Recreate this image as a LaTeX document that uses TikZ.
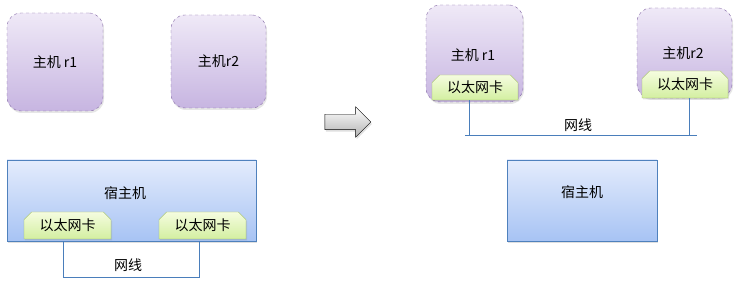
\documentclass[tikz,border=0pt]{standalone}
\usepackage{fontspec}
\setmainfont{Noto Sans CJK SC}
\usetikzlibrary{shapes.misc,shapes.arrows,shadows}
\definecolor{vmtop}{HTML}{EFE9F7}
\definecolor{vmbot}{HTML}{C7B5E1}
\definecolor{vmline}{HTML}{8064A2}
\definecolor{hosttop}{HTML}{E4ECFC}
\definecolor{hostbot}{HTML}{A7C3F4}
\definecolor{hostline}{HTML}{4F81BD}
\definecolor{nictop}{HTML}{F5FCDF}
\definecolor{nicbot}{HTML}{D3EFA1}
\definecolor{nicline}{HTML}{9BBB59}
\definecolor{wireline}{HTML}{4A7EBB}
\tikzset{
  vmbox/.style={draw=vmline,dashed,rounded corners=14pt,top color=vmtop,bottom color=vmbot,
    drop shadow={opacity=0.2,shadow xshift=1pt,shadow yshift=-2pt}},
  hostbox/.style={draw=hostline,top color=hosttop,bottom color=hostbot,
    drop shadow={opacity=0.25,shadow xshift=1pt,shadow yshift=-2pt}},
  nicbox/.style={draw=nicline,top color=nictop,bottom color=nicbot,
    chamfered rectangle,chamfered rectangle corners={north east,north west},
    chamfered rectangle xsep=2.5pt,inner sep=0pt,
    drop shadow={opacity=0.2,shadow xshift=1pt,shadow yshift=-1.5pt}},
  wire/.style={draw=wireline,line width=0.8pt},
  fwdarrow/.style={single arrow,draw=black,top color=white,bottom color=black!30,
    single arrow head extend=7.5pt,single arrow head indent=0pt,
    inner xsep=0pt,inner ysep=7.5pt,minimum height=46pt,
    drop shadow={opacity=0.25,shadow xshift=1pt,shadow yshift=-2pt}},
  lbl/.style={inner sep=0pt}
}
\begin{document}
\fontsize{14pt}{16pt}\selectfont
\begin{tikzpicture}[x=1pt,y=-1pt]
\useasboundingbox (0,0) rectangle (737,283);
\node[vmbox,minimum width=96pt,minimum height=98pt] (vma) at (55,62) {主机 r1};
\node[vmbox,minimum width=95pt,minimum height=93pt] (vmb) at (218.5,61.5) {主机r2};
\node[hostbox,minimum width=249pt,minimum height=81pt] (hosta) at (131.5,200.5) {};
\node[lbl] (hostatext) at (125,193) {宿主机};
\node[nicbox,minimum width=87pt,minimum height=27pt] (nica) at (67.5,225.5) {以太网卡};
\node[nicbox,minimum width=87pt,minimum height=27pt] (nicb) at (202.5,225.5) {以太网卡};
\coordinate (wirea) at (63,277);
\draw[wire] (hosta.south -| wirea) -- (wirea) -| ([xshift=-3.5pt]nicb.south |- hosta.south);
\node[lbl] (wireatext) at (128,265) {网线};
\node[fwdarrow] (arr) at (344,122) {};
\node[vmbox,minimum width=97pt,minimum height=97pt] (vmc) at (474.5,53.5) {};
\node[lbl] (vmctext) at (473,55) {主机 r1};
\node[nicbox,minimum width=86pt,minimum height=25pt] (nicc) at (475,87.5) {以太网卡};
\node[vmbox,minimum width=95pt,minimum height=90pt] (vmd) at (684.5,53) {};
\node[lbl] (vmdtext) at (683,53) {主机r2};
\node[nicbox,minimum width=86pt,minimum height=27pt] (nicd) at (685,84.5) {以太网卡};
\coordinate (wirel) at (465,135);
\coordinate (wirer) at (697,135);
\draw[wire] (wirel) -- (wirer);
\draw[wire] ([xshift=-6pt]nicc.south) -- ([xshift=-6pt]nicc.south |- wirel);
\draw[wire] ([xshift=4pt]nicd.south) -- ([xshift=4pt]nicd.south |- wirer);
\node[lbl] (wirebtext) at (578,125) {网线};
\node[hostbox,minimum width=150pt,minimum height=81pt] (hostb) at (582,200.5) {};
\node[lbl] (hostbtext) at (582,192) {宿主机};
\end{tikzpicture}
\end{document}
